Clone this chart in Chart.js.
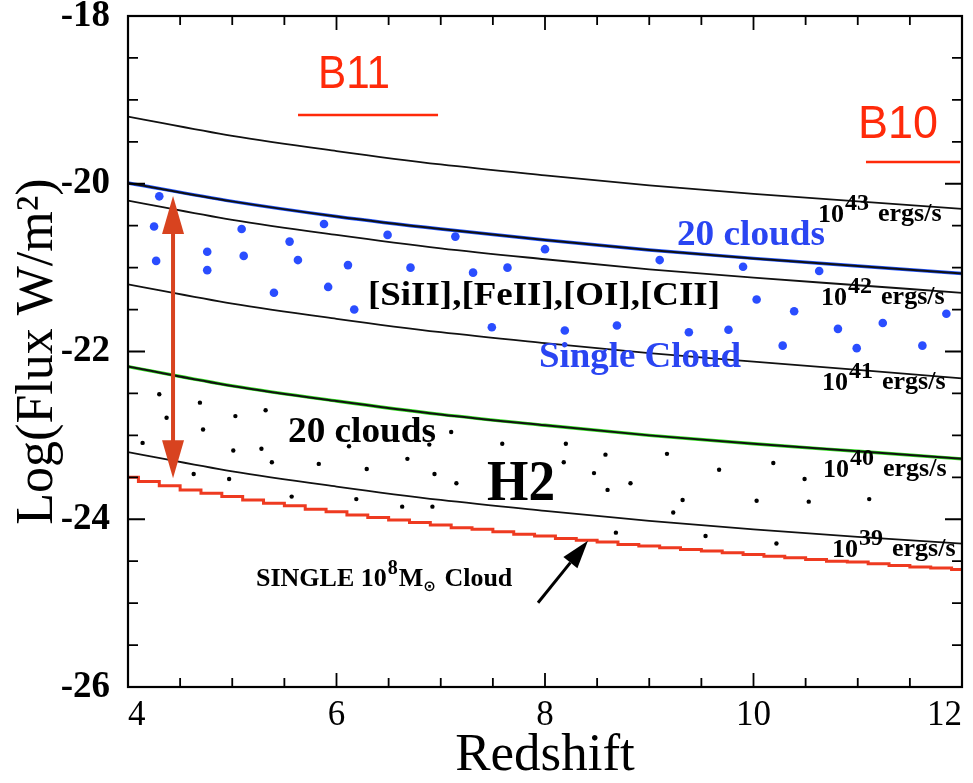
<!DOCTYPE html>
<html><head><meta charset="utf-8">
<script src="https://cdn.jsdelivr.net/npm/chart.js@4.4.1/dist/chart.umd.min.js"></script>
<style>html,body{margin:0;padding:0;background:#fff}#wrap{width:973px;height:783px;position:relative}</style>
</head><body><div id="wrap"><canvas id="c" width="973" height="783"></canvas></div>
<script>
// ---------- data ----------
const redshift = [4, 5, 6, 7, 8, 9, 10, 11, 12];
const lum43Flux   = [-19.20, -19.43, -19.61, -19.77, -19.90, -20.02, -20.12, -20.21, -20.30];
const clouds20Flux = [-19.99, -20.21, -20.39, -20.54, -20.67, -20.79, -20.89, -20.98, -21.07];
const lum42Flux   = [-20.20, -20.43, -20.61, -20.77, -20.90, -21.02, -21.12, -21.21, -21.30];
const lum41Flux   = [-21.20, -21.43, -21.61, -21.77, -21.90, -22.02, -22.12, -22.22, -22.32];
const lum40Flux   = [-22.18, -22.41, -22.59, -22.75, -22.88, -23.00, -23.10, -23.19, -23.28];
const lum39Flux   = [-23.20, -23.43, -23.61, -23.77, -23.90, -24.02, -24.12, -24.21, -24.29];

const stepRedshift = [4.0, 4.2, 4.4, 4.6, 4.8, 5.0, 5.2, 5.4, 5.6, 5.8, 6.0, 6.2, 6.4, 6.6, 6.8, 7.0, 7.2, 7.4, 7.6, 7.8, 8.0,
  8.2, 8.4, 8.6, 8.8, 9.0, 9.2, 9.4, 9.6, 9.8, 10.0, 10.2, 10.4, 10.6, 10.8, 11.0, 11.2, 11.4, 11.6, 11.8, 12.0];
const singleCloudFlux = [-23.50, -23.55, -23.60, -23.65, -23.69, -23.73, -23.77, -23.81, -23.84, -23.88, -23.91, -23.95, -23.98, -24.01, -24.04, -24.07, -24.10, -24.12, -24.15, -24.18, -24.20,
  -24.23, -24.25, -24.27, -24.30, -24.32, -24.34, -24.36, -24.38, -24.40, -24.42, -24.44, -24.46, -24.48, -24.50, -24.51, -24.53, -24.55, -24.57, -24.58, -24.60];

const fineLineZ = [4.30, 4.25, 4.27, 4.76, 4.76, 5.09, 5.11, 5.40, 5.55, 5.63, 5.88, 5.92, 6.11, 6.17, 6.49, 6.71, 7.14, 7.31, 7.64, 7.49, 8.00, 8.19, 8.69, 9.10, 9.38, 9.76, 9.90, 10.03, 10.28, 10.39, 10.63, 10.81, 10.99, 11.24, 11.62, 11.85];
const fineLineFlux = [-20.15, -20.51, -20.92, -20.81, -21.03, -20.54, -20.86, -21.30, -20.69, -20.91, -20.48, -21.23, -20.97, -21.50, -20.61, -21.00, -20.63, -21.06, -21.00, -21.71, -20.78, -21.75, -21.69, -20.91, -21.77, -21.74, -20.99, -21.38, -21.93, -21.52, -21.04, -21.73, -21.96, -21.66, -21.93, -21.55];

const h2Z = [4.30, 4.37, 4.14, 4.69, 4.72, 5.03, 5.32, 5.01, 5.28, 5.38, 4.63, 4.97, 5.83, 5.57, 6.12, 6.29, 6.19, 6.68, 6.63, 6.92, 6.94, 7.15, 7.10, 6.89, 7.59, 8.20, 8.18, 8.58, 8.47, 8.60, 8.82, 8.68, 9.17, 9.67, 10.19, 9.32, 9.23, 10.03, 9.54, 10.22, 10.49, 10.53, 11.11];
const h2Flux = [-22.51, -22.79, -23.09, -22.61, -22.93, -22.77, -22.70, -23.18, -23.16, -23.32, -23.46, -23.52, -23.34, -23.73, -23.13, -23.40, -23.76, -23.28, -23.85, -23.85, -23.46, -23.57, -22.96, -23.11, -23.10, -23.10, -23.32, -23.23, -23.45, -23.65, -23.57, -24.16, -23.22, -23.41, -23.33, -23.77, -23.92, -23.78, -24.20, -24.29, -23.52, -23.79, -23.76];

const xTickLabels = [4, 6, 8, 10, 12];
const yTickLabels = [-18, -20, -22, -24, -26];
const lumExponents = ['43', '42', '41', '40', '39'];

// ---------- styling / label anchors (data coordinates) ----------
const SERIF = "'Liberation Serif','Times New Roman','DejaVu Serif',serif";
const SANS = "'Liberation Sans',Arial,sans-serif";
const lumLabelAnchor = [[10.619, -20.455], [10.648, -21.445], [10.657, -22.458], [10.667, -23.495], [10.753, -24.448]];

function pts(xs, ys) { return xs.map((x, i) => ({ x: x, y: ys[i] })); }
function isLabel(v, arr) { return arr.some(a => Math.abs(a - v) < 1e-6); }

function txt(ctx, s, px, py, font, color, w) {
  ctx.save();
  ctx.font = font; ctx.fillStyle = color; ctx.textBaseline = 'alphabetic'; ctx.textAlign = 'left';
  ctx.translate(px, py);
  if (w) { const m = ctx.measureText(s).width; ctx.scale(w / m, 1); }
  ctx.fillText(s, 0, 0);
  const width = w || ctx.measureText(s).width;
  ctx.restore();
  return width;
}
function head(ctx, bx, by, tx, ty, hw, color) {
  const ang = Math.atan2(ty - by, tx - bx);
  ctx.fillStyle = color; ctx.beginPath(); ctx.moveTo(tx, ty);
  ctx.lineTo(bx + hw / 2 * Math.sin(ang), by - hw / 2 * Math.cos(ang));
  ctx.lineTo(bx - hw / 2 * Math.sin(ang), by + hw / 2 * Math.cos(ang));
  ctx.closePath(); ctx.fill();
}
function arrow(ctx, x1, y1, x2, y2, color, lw, hl, hw) {
  const ang = Math.atan2(y2 - y1, x2 - x1);
  const bx = x2 - hl * Math.cos(ang), by = y2 - hl * Math.sin(ang);
  ctx.strokeStyle = color; ctx.lineWidth = lw; ctx.beginPath(); ctx.moveTo(x1, y1); ctx.lineTo(bx, by); ctx.stroke();
  head(ctx, bx, by, x2, y2, hw, color);
}

const annot = {
  id: 'annot',
  afterDatasetsDraw(chart) {
    const { ctx, chartArea: a, scales: { x, y } } = chart;
    const X = v => x.getPixelForValue(v), Y = v => y.getPixelForValue(v);
    ctx.save();
    // frame
    ctx.strokeStyle = '#000'; ctx.lineWidth = 2.2;
    ctx.strokeRect(a.left, a.top, a.right - a.left, a.bottom - a.top);
    // inward ticks on all sides
    ctx.lineWidth = 1.8;
    ctx.beginPath();
    x.ticks.forEach(t => {
      const p = X(t.value); const L = isLabel(t.value, xTickLabels) ? 14 : 9;
      ctx.moveTo(p, a.bottom); ctx.lineTo(p, a.bottom - L);
      ctx.moveTo(p, a.top); ctx.lineTo(p, a.top + L);
    });
    y.ticks.forEach(t => {
      const p = Y(t.value); const L = isLabel(t.value, yTickLabels) ? 17 : 10;
      ctx.moveTo(a.left, p); ctx.lineTo(a.left + L, p);
      ctx.moveTo(a.right, p); ctx.lineTo(a.right - L, p);
    });
    ctx.stroke();

    // B11 / B10 markers
    const RED = '#ff2a0a';
    txt(ctx, 'B11', X(5.823), Y(-18.858), '46px ' + SANS, RED, 72);
    txt(ctx, 'B10', X(11.002), Y(-19.454), '46px ' + SANS, RED, 80);
    ctx.strokeStyle = RED; ctx.lineWidth = 2.5;
    ctx.beginPath();
    ctx.moveTo(X(5.631), Y(-19.180)); ctx.lineTo(X(6.974), Y(-19.180));
    ctx.moveTo(X(11.079), Y(-19.740)); ctx.lineTo(X(11.981), Y(-19.740));
    ctx.stroke();

    // luminosity labels
    lumExponents.forEach((e, i) => {
      const px = X(lumLabelAnchor[i][0]), py = Y(lumLabelAnchor[i][1]);
      txt(ctx, '10', px, py, 'bold 26px ' + SERIF, '#000');
      txt(ctx, e, px + 27, py - 12, 'bold 24px ' + SERIF, '#000');
      txt(ctx, 'ergs/s', px + 60, py - 1, 'bold 26px ' + SERIF, '#000');
    });

    // region labels
    const BLUE = '#2a45f2';
    txt(ctx, '[SiII],[FeII],[OI],[CII]', X(6.302), Y(-21.445), 'bold 34px ' + SERIF, '#000', 352);
    txt(ctx, 'Single Cloud', X(7.942), Y(-22.184), 'bold 36px ' + SERIF, BLUE, 202);
    txt(ctx, '20 clouds', X(9.266), Y(-20.729), 'bold 36px ' + SERIF, BLUE, 148);
    txt(ctx, '20 clouds', X(5.535), Y(-23.077), 'bold 36px ' + SERIF, '#000', 148);
    txt(ctx, 'H2', X(7.444), Y(-23.769), 'bold 58px ' + SERIF, '#000', 68);

    // SINGLE 10^8 M_sun Cloud
    let sx = X(5.228); const sy = Y(-24.800);
    sx += txt(ctx, 'SINGLE 10', sx, sy, 'bold 26px ' + SERIF, '#000');
    sx += txt(ctx, '8', sx + 1, sy - 12, 'bold 20px ' + SERIF, '#000') + 2;
    sx += txt(ctx, 'M', sx, sy, 'bold 26px ' + SERIF, '#000');
    sx += txt(ctx, '\u2299', sx, sy + 5, 'bold 15px ' + "'DejaVu Sans',sans-serif", '#000') + 2;
    txt(ctx, ' Cloud', sx, sy, 'bold 26px ' + SERIF, '#000');

    // red double arrow
    const AR = '#d8431f';
    const ax = X(4.432), top = Y(-20.145), bot = Y(-23.51);
    ctx.strokeStyle = AR; ctx.lineWidth = 4;
    ctx.beginPath(); ctx.moveTo(ax, top + 36); ctx.lineTo(ax, bot - 36); ctx.stroke();
    head(ctx, ax, top + 38, ax, top, 22, AR);
    head(ctx, ax, bot - 38, ax, bot, 22, AR);

    // black arrow
    arrow(ctx, X(7.933), Y(-24.996), X(8.412), Y(-24.257), '#000', 3, 28, 18);
    ctx.restore();
  }
};

const lineDs = (label, data, color, width, order) => ({
  label, data: pts(redshift, data), borderColor: color, borderWidth: width,
  pointRadius: 0, fill: false, cubicInterpolationMode: 'monotone', order
});

new Chart(document.getElementById('c'), {
  type: 'line',
  data: {
    datasets: [
      lineDs('20 clouds (fine-structure) blue', clouds20Flux, '#2255ff', 3.4, 6),
      lineDs('10^40 green', lum40Flux, '#33dd22', 3.4, 6),
      lineDs('1e43', lum43Flux, '#111', 1.8, 4),
      lineDs('20 clouds', clouds20Flux, '#111', 2.0, 4),
      lineDs('1e42', lum42Flux, '#111', 1.8, 4),
      lineDs('1e41', lum41Flux, '#111', 1.8, 4),
      lineDs('1e40', lum40Flux, '#111', 2.0, 4),
      lineDs('1e39', lum39Flux, '#111', 1.8, 4),
      { label: 'single 1e8 Msun cloud', data: pts(stepRedshift, singleCloudFlux), borderColor: '#ee3a20',
        borderWidth: 3, pointRadius: 0, stepped: 'middle', fill: false, order: 3 },
      { label: 'fine-structure points', data: pts(fineLineZ, fineLineFlux), showLine: false,
        pointRadius: 4.3, pointBackgroundColor: '#2a4dff', pointBorderWidth: 0, order: 2 },
      { label: 'H2 points', data: pts(h2Z, h2Flux), showLine: false,
        pointRadius: 2.2, pointBackgroundColor: '#000', pointBorderWidth: 0, order: 2 }
    ]
  },
  options: {
    responsive: false, animation: false, devicePixelRatio: 1,
    layout: { padding: { top: 16, right: 11, left: 0, bottom: 0 } },
    plugins: { legend: { display: false }, tooltip: { enabled: false } },
    scales: {
      x: {
        type: 'linear', min: 4, max: 12,
        afterFit(s) { s.height = 96; s.paddingLeft = 0; s.paddingRight = 0; },
        ticks: { stepSize: 0.5, autoSkip: false, maxRotation: 0, minRotation: 0, padding: 0, align: 'inner', color: '#000',
          font: { family: SERIF, size: 35 }, callback: v => isLabel(v, xTickLabels) ? String(v) : '' },
        grid: { display: false }, border: { display: false },
        title: { display: true, text: 'Redshift', color: '#000', font: { family: SERIF, size: 53, lineHeight: 1 }, padding: { top: 0, bottom: 0 } }
      },
      y: {
        type: 'linear', min: -26, max: -18,
        afterFit(s) { s.width = 128; s.paddingTop = 0; s.paddingBottom = 0; },
        ticks: { stepSize: 0.5, autoSkip: false, padding: 10, color: '#000',
          font: { family: SERIF, size: 37, weight: 'bold' }, callback: v => isLabel(v, yTickLabels) ? String(v) : '' },
        grid: { display: false }, border: { display: false },
        title: { display: true, text: 'Log(Flux W/m\u00B2)', color: '#000', font: { family: SERIF, size: 52, lineHeight: 1 }, padding: { top: 12, bottom: 0 } }
      }
    }
  },
  plugins: [annot]
});
</script>
</body></html>
